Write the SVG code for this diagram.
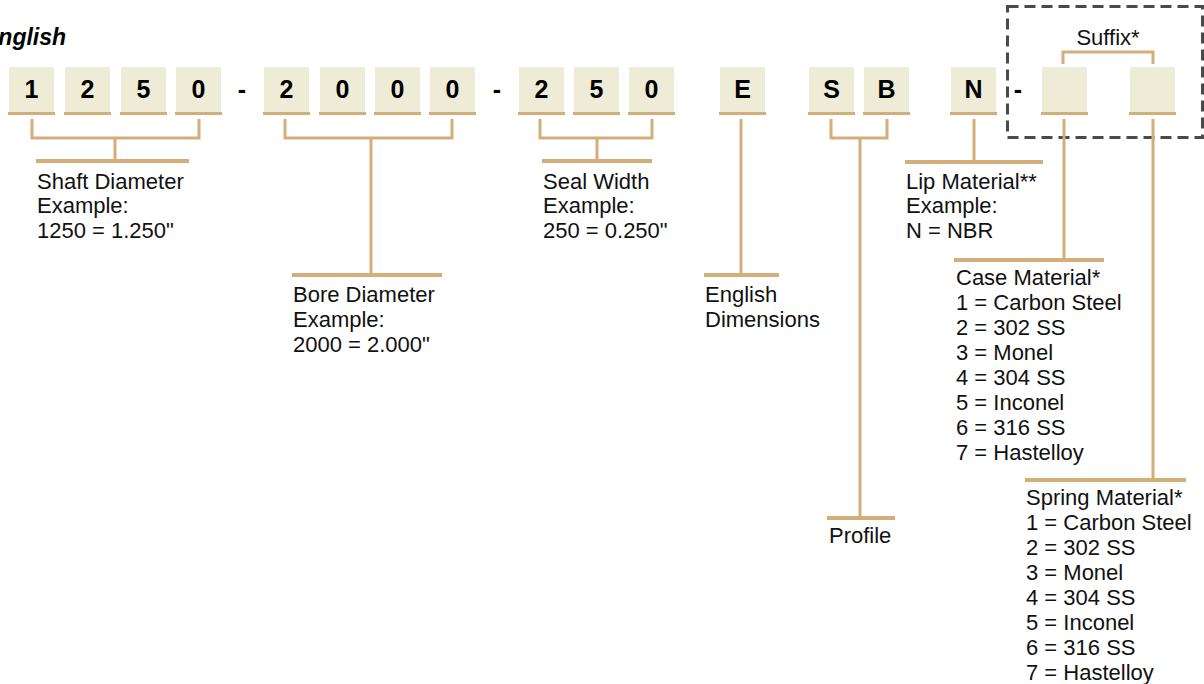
<svg xmlns="http://www.w3.org/2000/svg" width="1204" height="684" viewBox="0 0 1204 684">
<style>
.box{fill:#EEEBD6}
.ul{fill:#D4AE78}
.ln{stroke:#D4AE78;stroke-width:3;fill:none}
.bar{stroke:#D4AE78;stroke-width:4;fill:none}
.dig{font-family:"Liberation Sans",Arial,sans-serif;font-weight:bold;font-size:25px;fill:#000;text-anchor:middle}
.lbl{font-family:"Liberation Sans",Arial,sans-serif;font-size:22px;fill:#111}
.dash{font-family:"Liberation Sans",Arial,sans-serif;font-weight:bold;font-size:25px;fill:#000;text-anchor:middle}
</style>
<defs>
<g id="cell"><rect class="box" x="0" y="0" width="45" height="45"/><rect class="ul" x="-1" y="45" width="47" height="3"/></g>
</defs>
<rect width="1204" height="684" fill="#fff"/>
<text x="-17" y="45" style="font-family:'Liberation Sans',Arial,sans-serif;font-weight:bold;font-style:italic;font-size:23px" fill="#000">English</text>
<rect x="1007.5" y="6.5" width="195" height="131" fill="none" stroke="#4a4a4a" stroke-width="3" stroke-dasharray="11 6"/>
<g id="node-1"><use href="#cell" x="9" y="67"/><text class="dig" x="31.5" y="98">1</text></g>
<g id="node-2"><use href="#cell" x="65" y="67"/><text class="dig" x="87.5" y="98">2</text></g>
<g id="node-5"><use href="#cell" x="121" y="67"/><text class="dig" x="143.5" y="98">5</text></g>
<g id="node-0"><use href="#cell" x="176" y="67"/><text class="dig" x="198.5" y="98">0</text></g>
<text class="dash" x="242" y="98">-</text>
<g id="node-b2"><use href="#cell" x="264" y="67"/><text class="dig" x="286.5" y="98">2</text></g>
<g id="node-b0a"><use href="#cell" x="320" y="67"/><text class="dig" x="342.5" y="98">0</text></g>
<g id="node-b0b"><use href="#cell" x="375" y="67"/><text class="dig" x="397.5" y="98">0</text></g>
<g id="node-b0c"><use href="#cell" x="430" y="67"/><text class="dig" x="452.5" y="98">0</text></g>
<text class="dash" x="497" y="98">-</text>
<g id="node-w2"><use href="#cell" x="519" y="67"/><text class="dig" x="541.5" y="98">2</text></g>
<g id="node-w5"><use href="#cell" x="574" y="67"/><text class="dig" x="596.5" y="98">5</text></g>
<g id="node-w0"><use href="#cell" x="629" y="67"/><text class="dig" x="651.5" y="98">0</text></g>
<g id="node-E"><use href="#cell" x="720" y="67"/><text class="dig" x="742.5" y="98">E</text></g>
<g id="node-S"><use href="#cell" x="809" y="67"/><text class="dig" x="831.5" y="98">S</text></g>
<g id="node-B"><use href="#cell" x="864" y="67"/><text class="dig" x="886.5" y="98">B</text></g>
<g id="node-N"><use href="#cell" x="951" y="67"/><text class="dig" x="973.5" y="98">N</text></g>
<text class="dash" x="1018" y="98">-</text>
<g id="node-s1"><use href="#cell" x="1042" y="67"/></g>
<g id="node-s2"><use href="#cell" x="1130" y="67"/></g>
<g id="connectors">
<path class="ln" d="M32 119V138H199V119M115 138V161"/>
<path class="bar" d="M36 161H189"/>
<path class="ln" d="M285 119V138H452V119M371 138V275"/>
<path class="bar" d="M292 275H442"/>
<path class="ln" d="M540 119V138H652V119M597 138V161"/>
<path class="bar" d="M542 161H652"/>
<path class="ln" d="M741 119V275"/>
<path class="bar" d="M704 275H779"/>
<path class="ln" d="M831 119V138H887V119M860 138V518"/>
<path class="bar" d="M827 518H895"/>
<path class="ln" d="M974 119V162"/>
<path class="bar" d="M905 162H1043"/>
<path class="ln" d="M1064 119V260"/>
<path class="bar" d="M954 260H1104"/>
<path class="ln" d="M1153 119V480"/>
<path class="bar" d="M1025 480H1186"/>
<path class="ln" d="M1063 64V52H1153V64"/>
</g>
<text class="lbl" x="1108" y="45" text-anchor="middle">Suffix*</text>
<g id="lbl-shaft"><text class="lbl" x="37" y="189">Shaft Diameter</text><text class="lbl" x="37" y="213">Example:</text><text class="lbl" x="37" y="238">1250 = 1.250"</text></g>
<g id="lbl-bore"><text class="lbl" x="293" y="302">Bore Diameter</text><text class="lbl" x="293" y="327">Example:</text><text class="lbl" x="293" y="352">2000 = 2.000"</text></g>
<g id="lbl-seal"><text class="lbl" x="543" y="189">Seal Width</text><text class="lbl" x="543" y="213">Example:</text><text class="lbl" x="543" y="238">250 = 0.250"</text></g>
<g id="lbl-eng"><text class="lbl" x="705" y="302">English</text><text class="lbl" x="705" y="327">Dimensions</text></g>
<g id="lbl-profile"><text class="lbl" x="829" y="543">Profile</text></g>
<g id="lbl-lip"><text class="lbl" x="906" y="189">Lip Material**</text><text class="lbl" x="906" y="213">Example:</text><text class="lbl" x="906" y="238">N = NBR</text></g>
<g id="lbl-case"><text class="lbl" x="956" y="285">Case Material*</text><text class="lbl" x="956" y="310">1 = Carbon Steel</text><text class="lbl" x="956" y="335">2 = 302 SS</text><text class="lbl" x="956" y="360">3 = Monel</text><text class="lbl" x="956" y="385">4 = 304 SS</text><text class="lbl" x="956" y="410">5 = Inconel</text><text class="lbl" x="956" y="435">6 = 316 SS</text><text class="lbl" x="956" y="460">7 = Hastelloy</text></g>
<g id="lbl-spring"><text class="lbl" x="1026" y="505">Spring Material*</text><text class="lbl" x="1026" y="530">1 = Carbon Steel</text><text class="lbl" x="1026" y="555">2 = 302 SS</text><text class="lbl" x="1026" y="580">3 = Monel</text><text class="lbl" x="1026" y="605">4 = 304 SS</text><text class="lbl" x="1026" y="630">5 = Inconel</text><text class="lbl" x="1026" y="655">6 = 316 SS</text><text class="lbl" x="1026" y="680">7 = Hastelloy</text></g>
</svg>
